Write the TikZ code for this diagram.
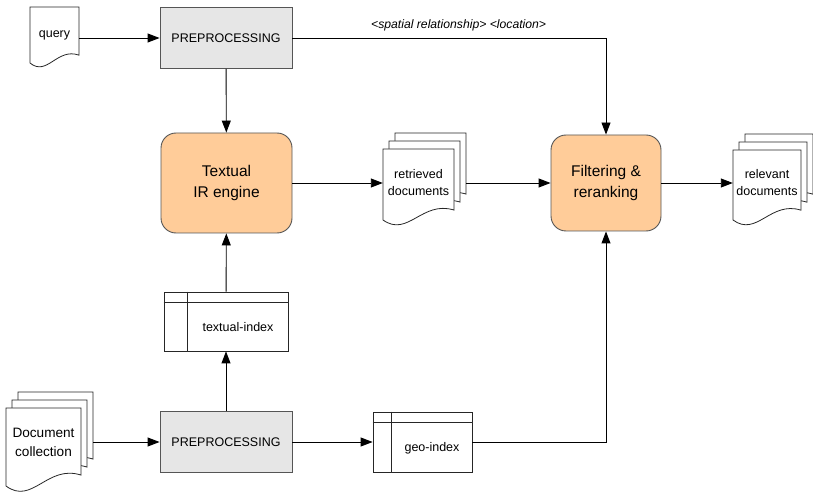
\documentclass[tikz,border=0pt]{standalone}
\usepackage{fontspec}
\setmainfont{Liberation Sans}
\usetikzlibrary{arrows.meta,positioning,calc}
\definecolor{prepfill}{HTML}{E6E6E6}
\definecolor{enginefill}{HTML}{FFCC99}
\definecolor{edgegray}{HTML}{555555}

% one page with a wavy lower edge: top-left x, y, width, height
\newcommand{\docpage}[4]{%
  \draw[docline] (#1,#2) -- ++(#3,0) -- ++(0,0.86*#4)
    .. controls (#1+0.55*#3,#2+0.72*#4) and (#1+0.35*#3,#2+1.25*#4) .. (#1,#2+#4)
    -- cycle;}
% three stacked pages
\newcommand{\docstack}[4]{%
  \docpage{#1+12}{#2-16}{#3}{#4}%
  \docpage{#1+6}{#2-8}{#3}{#4}%
  \docpage{#1}{#2}{#3}{#4}}

\begin{document}
\begin{tikzpicture}[x=1pt,y=-1pt,
  >={Triangle[length=12pt,width=9pt]},
  flow/.style={->,line width=0.9pt},
  docline/.style={draw=black!85,fill=white,line width=0.8pt},
  doctext/.style={align=center,inner sep=0pt,font=\fontsize{12.5}{17}\selectfont},
  prepbox/.style={draw=edgegray,fill=prepfill,line width=0.9pt,
    minimum width=132pt,minimum height=61pt,font=\fontsize{12.5}{15}\selectfont},
  engine/.style={draw=edgegray,fill=enginefill,rounded corners=15pt,line width=0.9pt,
    align=center,font=\fontsize{15.5}{21.5}\selectfont},
  indexbox/.style={draw=black!85,fill=white,line width=0.8pt}]

  \useasboundingbox (0,0) rectangle (813,494);

  % document shapes
  \docpage{30}{7}{49}{56}
  \docstack{383}{149}{71}{71}
  \docstack{733}{150}{68}{70}
  \docstack{6}{408}{75}{78}

  \node[doctext, minimum width=49pt] (query) at (54.5,35) {query};
  \node[doctext, minimum width=71pt] (retrieved) at (418.5,183) {retrieved\\documents};
  \node[doctext, minimum width=68pt] (relevant) at (767,183) {relevant\\documents};
  \node[doctext, minimum width=75pt, font=\fontsize{13.6}{19}\selectfont] (doccoll) at (43.5,442) {Document\\collection};

  % processing steps
  \node[prepbox] (prep1) at (226,38) {PREPROCESSING};
  \node[prepbox] (prep2) at (226,442) {PREPROCESSING};
  \node[engine, minimum width=131pt, minimum height=100pt] (textir) at (226.5,183) {Textual\\IR engine};
  \node[engine, minimum width=110pt, minimum height=96pt] (filter) at (606,183) {Filtering \&\\reranking};

  % indexes
  \node[indexbox, minimum width=124pt, minimum height=59pt] (tindex) at (226,321.5) {};
  \draw[indexbox] ([yshift=-11pt]tindex.north west) -- ([yshift=-11pt]tindex.north east);
  \draw[indexbox] ([xshift=24pt]tindex.north west) -- ([xshift=24pt]tindex.south west);
  \node[doctext] (tindextext) at (238,327) {textual-index};

  \node[indexbox, minimum width=99pt, minimum height=60pt] (gindex) at (422.5,442) {};
  \draw[indexbox] ([yshift=-11pt]gindex.north west) -- ([yshift=-11pt]gindex.north east);
  \draw[indexbox] ([xshift=19pt]gindex.north west) -- ([xshift=19pt]gindex.south west);
  \node[doctext] (gindextext) at (432,448) {geo-index};

  % connectors
  \draw[flow] (query.east |- prep1) -- (prep1);
  \draw[flow] (prep1) -- (textir);
  \draw[flow] (prep1.east) -| (filter.north)
    node[pos=0.265, above=3pt, font=\itshape\fontsize{12.2}{14}\selectfont] (sprel)
    {<spatial relationship> <location>};
  \draw[flow] (textir) -- (retrieved.west);
  \draw[flow] ([xshift=12pt]retrieved.east) -- (filter);
  \draw[flow] (filter) -- (relevant.west);
  \draw[flow] (tindex) -- (textir);
  \draw[flow] (prep2) -- (tindex);
  \draw[flow] ([xshift=12pt]doccoll.east |- prep2) -- (prep2);
  \draw[flow] (prep2) -- (gindex);
  \draw[flow] (gindex.east) -| (filter.south);
\end{tikzpicture}
\end{document}
